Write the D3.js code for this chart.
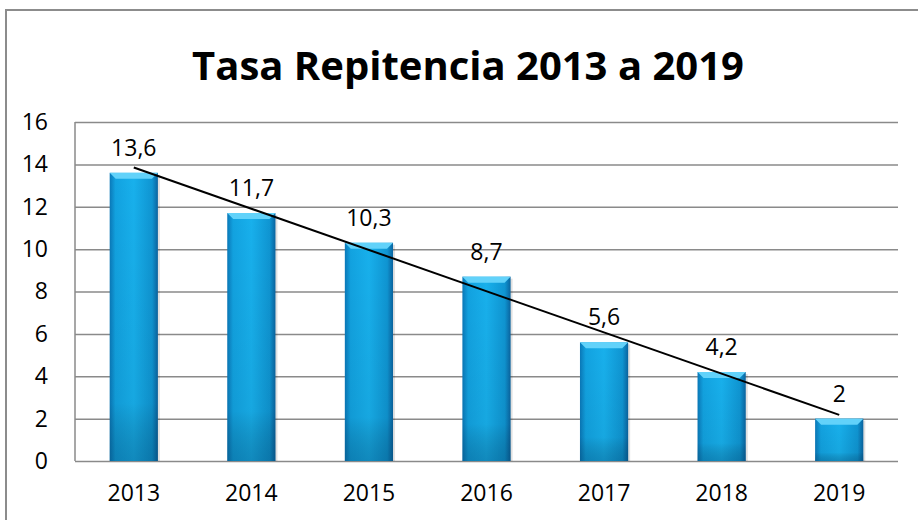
<!DOCTYPE html>
<html>
<head>
<meta charset="utf-8">
<script src="https://cdn.jsdelivr.net/npm/d3@7"></script>
<style>
  html, body { margin: 0; padding: 0; background: #fff; }
  svg { display: block; font-family: 'Open Sans', sans-serif; }
</style>
</head>
<body>
<div id="chart"></div>
<script>
// Data
const years = ['2013', '2014', '2015', '2016', '2017', '2018', '2019'];
const rates = [13.6, 11.7, 10.3, 8.7, 5.6, 4.2, 2];
const yTicks = [0, 2, 4, 6, 8, 10, 12, 14, 16];
const title = 'Tasa Repitencia 2013 a 2019';

const W = 918, H = 520;
const margin = { top: 122, right: 20, bottom: 59, left: 75 },
    width = W - margin.left - margin.right,
    height = H - margin.top - margin.bottom;

const svg = d3.select('#chart')
  .append('svg')
    .attr('width', W)
    .attr('height', H);

// Outer chart frame (right and bottom run off the picture)
svg.append('rect')
    .attr('x', 6).attr('y', 10)
    .attr('width', W + 20).attr('height', H + 20)
    .attr('fill', 'none')
    .attr('stroke', '#8c8c8c')
    .attr('stroke-width', 2);

svg.append('text')
    .attr('x', 468).attr('y', 80)
    .attr('text-anchor', 'middle')
    .attr('font-size', 40)
    .attr('font-weight', 'bold')
    .attr('fill', '#000')
    .text(title);

// Gradients for the bevelled bars
const defs = svg.append('defs');
const body = defs.append('linearGradient').attr('id', 'barBody')
    .attr('x1', 0).attr('x2', 1).attr('y1', 0).attr('y2', 0);
body.append('stop').attr('offset', '0%').attr('stop-color', '#0a78b8');
body.append('stop').attr('offset', '12%').attr('stop-color', '#12a2e0');
body.append('stop').attr('offset', '50%').attr('stop-color', '#18b0ec');
body.append('stop').attr('offset', '88%').attr('stop-color', '#0f95d2');
body.append('stop').attr('offset', '100%').attr('stop-color', '#0a64a0');
const shade = defs.append('linearGradient').attr('id', 'barShade')
    .attr('x1', 0).attr('x2', 0).attr('y1', 0).attr('y2', 1);
shade.append('stop').attr('offset', '0%').attr('stop-color', '#000').attr('stop-opacity', 0);
shade.append('stop').attr('offset', '80%').attr('stop-color', '#000').attr('stop-opacity', 0.05);
shade.append('stop').attr('offset', '100%').attr('stop-color', '#003050').attr('stop-opacity', 0.3);

const g = svg.append('g')
    .attr('transform', 'translate(' + margin.left + ',' + margin.top + ')');

const x = d3.scaleBand()
    .domain(years)
    .range([0, width])
    .paddingInner(0.59)
    .paddingOuter(0.295);

const y = d3.scaleLinear()
    .domain([0, 16])
    .range([height, 0]);

// Gridlines
g.append('g')
    .call(d3.axisLeft(y).tickValues(yTicks).tickSize(-width).tickFormat(''))
    .call(a => a.select('.domain').remove())
    .call(a => a.selectAll('line').attr('stroke', '#8a8a8a').attr('stroke-width', 1.5));

// Y labels
g.append('g')
    .call(d3.axisLeft(y).tickValues(yTicks).tickSize(0).tickPadding(27))
    .call(a => a.select('.domain').remove())
    .call(a => a.selectAll('text')
        .attr('font-size', 23)
        .attr('fill', '#000')
        .attr('font-family', "'Open Sans', sans-serif"));

// Left axis line
g.append('line')
    .attr('x1', 0).attr('x2', 0)
    .attr('y1', 0).attr('y2', height)
    .attr('stroke', '#8a8a8a')
    .attr('stroke-width', 1.5);

// X labels
g.append('g')
    .attr('transform', 'translate(0,' + height + ')')
    .call(d3.axisBottom(x).tickSize(0).tickPadding(24))
    .call(a => a.select('.domain').remove())
    .call(a => a.selectAll('text')
        .attr('font-size', 23)
        .attr('fill', '#000')
        .attr('font-family', "'Open Sans', sans-serif"));

// Bars
const bars = g.selectAll('.bar')
    .data(years.map((d, i) => ({ year: d, value: rates[i] })))
    .enter()
    .append('g')
      .attr('class', 'bar');

bars.append('rect')
    .attr('x', d => x(d.year) + 2)
    .attr('y', d => y(d.value) + 2)
    .attr('width', x.bandwidth())
    .attr('height', d => height - y(d.value) - 2)
    .attr('fill', '#000')
    .attr('opacity', 0.12);

bars.append('rect')
    .attr('x', d => x(d.year))
    .attr('y', d => y(d.value))
    .attr('width', x.bandwidth())
    .attr('height', d => height - y(d.value))
    .attr('fill', 'url(#barBody)');

bars.append('rect')
    .attr('x', d => x(d.year))
    .attr('y', d => y(d.value))
    .attr('width', x.bandwidth())
    .attr('height', d => height - y(d.value))
    .attr('fill', 'url(#barShade)');

// Top bevel
bars.append('path')
    .attr('d', function(d) {
      const x0 = x(d.year), x1 = x0 + x.bandwidth(), y0 = y(d.value), b = 6;
      return 'M' + x0 + ',' + y0 + 'L' + x1 + ',' + y0 + 'L' + (x1 - b) + ',' + (y0 + b) +
        'L' + (x0 + b) + ',' + (y0 + b) + 'Z';
    })
    .attr('fill', '#62d2fa');

// Value labels
bars.append('text')
    .attr('x', d => x(d.year) + x.bandwidth() / 2)
    .attr('y', d => y(d.value) - 17)
    .attr('text-anchor', 'middle')
    .attr('font-size', 23)
    .attr('fill', '#000')
    .text(d => String(d.value).replace('.', ','));

// Linear trend line (least squares over the bar values)
const n = rates.length;
const mx = d3.mean(d3.range(n)), my = d3.mean(rates);
const slope = d3.sum(rates, (v, i) => (i - mx) * (v - my)) / d3.sum(d3.range(n), i => (i - mx) * (i - mx));
const icpt = my - slope * mx;
const cx = i => x(years[i]) + x.bandwidth() / 2;
g.append('line')
    .attr('x1', cx(0)).attr('y1', y(icpt))
    .attr('x2', cx(n - 1)).attr('y2', y(icpt + slope * (n - 1)))
    .attr('stroke', '#000')
    .attr('stroke-width', 2);
</script>
</body>
</html>
